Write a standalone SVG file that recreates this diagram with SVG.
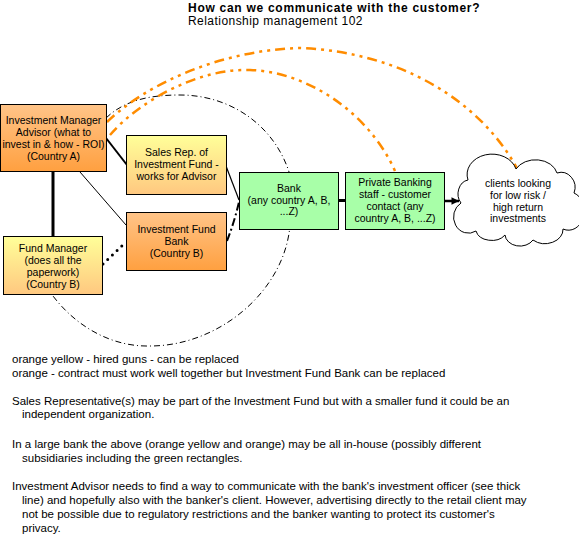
<svg xmlns="http://www.w3.org/2000/svg" width="579" height="551" viewBox="0 0 579 551">
<defs>
<linearGradient id="gOrange" x1="0" y1="0" x2="0" y2="1">
<stop offset="0" stop-color="#FFC488"/>
<stop offset="1" stop-color="#FFA040"/>
</linearGradient>
<linearGradient id="gYellow" x1="0" y1="0" x2="0" y2="1">
<stop offset="0" stop-color="#FFFF99"/>
<stop offset="1" stop-color="#FFC880"/>
</linearGradient>
<marker id="arrow" viewBox="0 0 10 10" refX="10" refY="5" markerWidth="3.2" markerHeight="3" orient="auto" markerUnits="strokeWidth">
<path d="M0,0 L10,5 L0,10 Z" fill="#000"/>
</marker>
<style>
.box{stroke:#000;stroke-width:1}
.orange{fill:url(#gOrange)}
.yellow{fill:url(#gYellow)}
.green{fill:#A8FFA8}
.nt{font-family:"Liberation Sans",Arial,sans-serif;font-size:10.5px;fill:#000;text-anchor:middle}
.bt{font-family:"Liberation Sans",Arial,sans-serif;font-size:11.5px;fill:#000}
.tt{font-family:"Liberation Sans",Arial,sans-serif;font-size:12px;fill:#000}
.conn{fill:none;stroke:#000}
.orl{fill:none;stroke:#FF8C00;stroke-width:2.5;stroke-dasharray:10,5,3,5,3,5}
</style>
</defs>
<rect width="579" height="551" fill="#fff"/>
<g id="title">
<text x="188" y="11.5" class="tt" font-weight="bold" letter-spacing="0.72">How can we communicate with the customer?</text>
<text x="188" y="25" class="tt" letter-spacing="0.45">Relationship management 102</text>
</g>
<g id="connectors">
<path class="conn" stroke-width="1" stroke-dasharray="6,3,1,3" d="M106,118 C125,100 150,95 180,95 C230,95 275,125 290,175 C295,190 295,210 290,225 C285,290 220,346 150,346 C110,347 75,325 53,296"/>
<line class="conn" x1="106" y1="138" x2="127" y2="165" stroke-width="2"/>
<line class="conn" x1="53" y1="172" x2="53" y2="236" stroke-width="3"/>
<line class="conn" x1="80" y1="172" x2="126" y2="225" stroke-width="1"/>
<line class="conn" x1="226" y1="166" x2="239" y2="200" stroke-width="1.2"/>
<path class="conn" stroke-width="2" stroke-dasharray="8,3,2,3" d="M227,241 C232,228 236,215 239,202"/>
<line class="conn" x1="103" y1="264" x2="126" y2="242" stroke-width="3" stroke-linecap="round" stroke-dasharray="0,6.5"/>
<line class="conn" x1="338" y1="200.5" x2="345" y2="200.5" stroke-width="3"/>
<line class="conn" x1="444" y1="201" x2="459" y2="201" stroke-width="2.5" marker-end="url(#arrow)"/>
<path class="orl" d="M107,122 C145,85 220,50 300,48 C400,52 480,100 518,170"/>
<path class="orl" d="M110,135 C140,100 200,68 250,70 C310,72 370,115 395,171"/>
</g>
<g id="investment-manager">
<rect class="box orange" x="0.5" y="104.5" width="106" height="67"/>
<text class="nt" x="53.5" y="124">Investment Manager</text>
<text class="nt" x="53.5" y="136">Advisor (what to</text>
<text class="nt" x="53.5" y="148">invest in &amp; how - ROI)</text>
<text class="nt" x="53.5" y="160">(Country A)</text>
</g>
<g id="sales-rep">
<rect class="box yellow" x="126.5" y="135.5" width="100" height="59"/>
<text class="nt" x="176.5" y="156">Sales Rep. of</text>
<text class="nt" x="176.5" y="168">Investment Fund -</text>
<text class="nt" x="176.5" y="179.5">works for Advisor</text>
</g>
<g id="investment-fund-bank">
<rect class="box orange" x="126.5" y="212.5" width="100" height="58"/>
<text class="nt" x="176.5" y="233">Investment Fund</text>
<text class="nt" x="176.5" y="245">Bank</text>
<text class="nt" x="176.5" y="257">(Country B)</text>
</g>
<g id="fund-manager">
<rect class="box yellow" x="3.5" y="236.5" width="99" height="58"/>
<text class="nt" x="53" y="251.5">Fund Manager</text>
<text class="nt" x="53" y="263.5">(does all the</text>
<text class="nt" x="53" y="275.5">paperwork)</text>
<text class="nt" x="53" y="287.5">(Country B)</text>
</g>
<g id="bank">
<rect class="box green" x="239.5" y="172.5" width="99" height="57"/>
<text class="nt" x="289" y="191.5">Bank</text>
<text class="nt" x="289" y="203.5">(any country A, B,</text>
<text class="nt" x="289" y="215">...Z)</text>
</g>
<g id="private-banking">
<rect class="box green" x="345.5" y="172.5" width="99" height="57"/>
<text class="nt" x="395" y="186">Private Banking</text>
<text class="nt" x="395" y="198">staff - customer</text>
<text class="nt" x="395" y="210">contact (any</text>
<text class="nt" x="395" y="222">country A, B, ...Z)</text>
</g>
<g id="clients">
<path fill="#fff" stroke="#000" stroke-width="1" d="M461,203 A12,14 0 0 1 468,180 A22,18 0 0 1 516,169 A22,17 0 0 1 557,173 A14,15 0 0 1 574,193 A14,17 0 0 1 563,229 A18,14 0 0 1 533,240 A15,12 0 0 1 505,235 A16,12 0 0 1 476,231 A12,13 0 0 1 461,203 Z"/>
<text class="nt" x="518" y="186.5">clients looking</text>
<text class="nt" x="518" y="198.5">for low risk /</text>
<text class="nt" x="518" y="210.5">high return</text>
<text class="nt" x="518" y="222">investments</text>
</g>
<g id="notes">
<text class="bt" x="12" y="363">orange yellow - hired guns - can be replaced</text>
<text class="bt" x="12" y="377">orange - contract must work well together but Investment Fund Bank can be replaced</text>
<text class="bt" x="12" y="405">Sales Representative(s) may be part of the Investment Fund but with a smaller fund it could be an</text>
<text class="bt" x="22" y="418">independent organization.</text>
<text class="bt" x="12" y="448">In a large bank the above (orange yellow and orange) may be all in-house (possibly different</text>
<text class="bt" x="22" y="462">subsidiaries including the green rectangles.</text>
<text class="bt" x="12" y="490">Investment Advisor needs to find a way to communicate with the bank's investment officer (see thick</text>
<text class="bt" x="22" y="504">line) and hopefully also with the banker's client. However, advertising directly to the retail client may</text>
<text class="bt" x="22" y="518">not be possible due to regulatory restrictions and the banker wanting to protect its customer's</text>
<text class="bt" x="22" y="532">privacy.</text>
</g>
</svg>
